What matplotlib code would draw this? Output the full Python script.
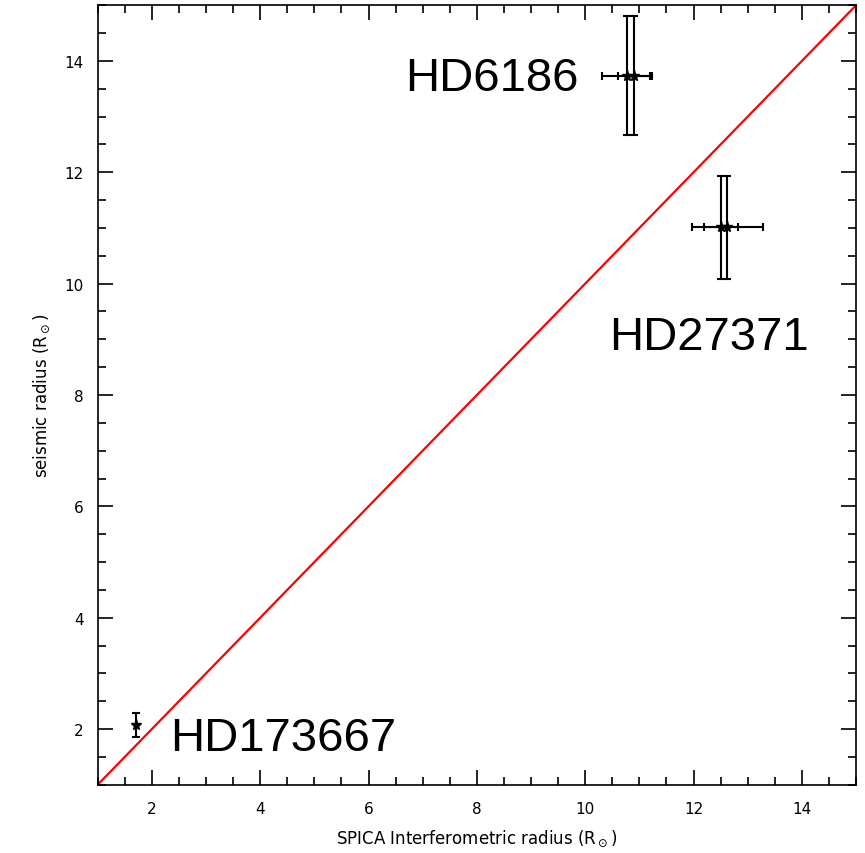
import numpy as np
import matplotlib.pyplot as plt
from matplotlib.ticker import MultipleLocator

# stars: interferometric (x) vs seismic (y) radius, two estimates each
names = ['HD6186', 'HD27371', 'HD173667']
x_a = [10.77, 12.51, 1.70]
xerr_a = [0.46, 0.32, 0.0]
x_b = [10.90, 12.62]
xerr_b = [0.29, 0.655]
y_seis = [13.735, 11.01, 2.07]
yerr_seis = [1.065, 0.93, 0.21]

label_x = [6.67, 10.45, 2.33]
label_y = [13.70, 9.05, 1.84]

fig = plt.figure(figsize=(8.65, 8.54), dpi=100)
ax = fig.add_axes([0.113, 0.080, 0.8766, 0.9126])

# 1:1 line
diag = np.array([1, 15])
ax.plot(diag, diag, color='red', lw=1.6, zorder=1)

ekw = dict(fmt='*', color='black', ms=8, lw=1.5, capsize=3, capthick=1.5,
           elinewidth=1.5, zorder=3)
ax.errorbar(x_a, y_seis, xerr=xerr_a, yerr=yerr_seis, **ekw)
ax.errorbar(x_b, y_seis[:2], xerr=xerr_b, yerr=yerr_seis[:2], **ekw)

for name, lx, ly in zip(names, label_x, label_y):
    ax.text(lx, ly, name, fontsize=34, family='Liberation Sans',
            ha='left', va='center')

ax.set_xlim(1, 15)
ax.set_ylim(1, 15)
ax.xaxis.set_major_locator(MultipleLocator(2))
ax.yaxis.set_major_locator(MultipleLocator(2))
ax.xaxis.set_minor_locator(MultipleLocator(0.5))
ax.yaxis.set_minor_locator(MultipleLocator(0.5))
ax.tick_params(which='both', direction='in', top=True, right=True,
               labelsize=11, width=1.2)
ax.tick_params(axis='x', which='both', pad=12)
ax.tick_params(axis='y', which='both', pad=10)
ax.tick_params(which='major', length=11)
ax.tick_params(which='minor', length=5.5)
for s in ax.spines.values():
    s.set_linewidth(1.2)

ax.set_xlabel(r'SPICA Interferometric radius (R$_\odot$)', fontsize=12, labelpad=8)
ax.set_ylabel(r'seismic radius (R$_\odot$)', fontsize=12, labelpad=9)

fig.savefig('out.png', dpi=100)
